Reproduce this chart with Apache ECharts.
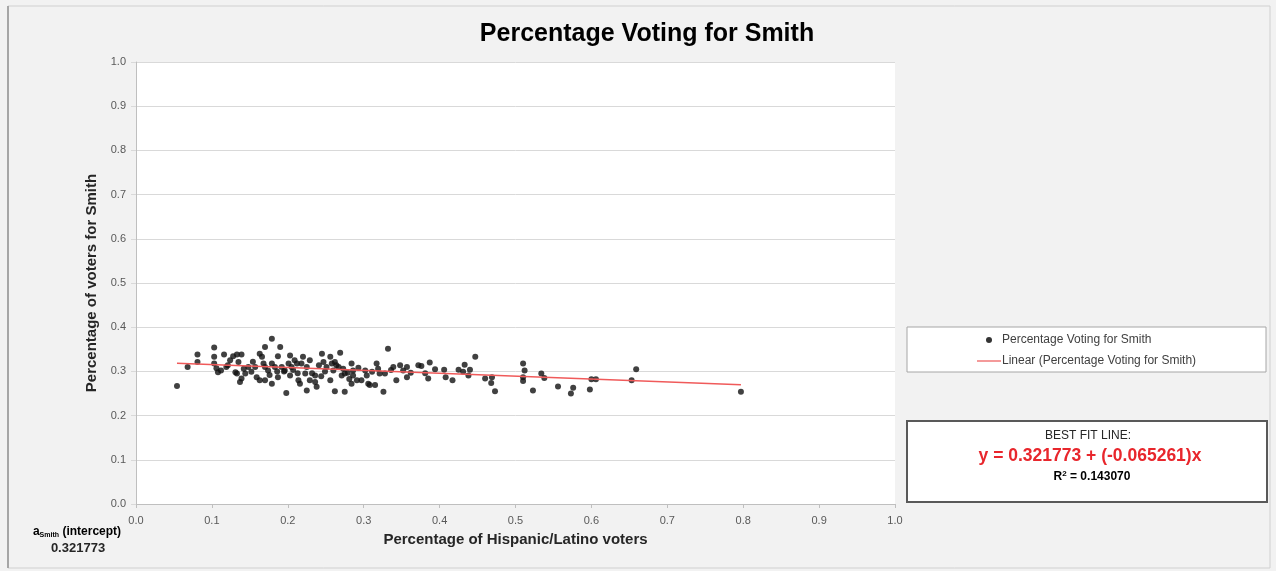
<!DOCTYPE html>
<html>
<head>
<meta charset="utf-8">
<script src="https://cdn.jsdelivr.net/npm/echarts@6/dist/echarts.min.js"></script>
<style>html,body{margin:0;padding:0;background:#f2f2f2;}#c{width:1276px;height:571px;}</style>
</head>
<body>
<div id="c"></div>
<script>
// Hispanic/Latino share (x) and Smith vote share (y)
const hispanicShare = [
0.054,0.068,0.081,0.081,0.103,0.103,0.103,0.106,0.108,0.116,0.119,0.128,0.133,0.139,0.135,0.133,0.139,0.137,0.144,0.131,
0.148,0.157,0.159,0.163,0.163,0.166,0.168,0.170,0.179,0.190,0.187,0.170,0.174,0.179,0.183,0.187,0.192,0.196,0.201,0.205,
0.170,0.179,0.198,0.203,0.209,0.212,0.207,0.203,0.220,0.218,0.225,0.229,0.223,0.214,0.216,0.225,0.229,0.236,0.238,0.236,
0.245,0.247,0.251,0.256,0.258,0.262,0.260,0.264,0.269,0.267,0.273,0.275,0.271,0.256,0.262,0.275,0.284,0.286,0.286,0.284,
0.291,0.297,0.306,0.308,0.302,0.304,0.317,0.319,0.321,0.315,0.326,0.328,0.332,0.339,0.343,0.348,0.352,0.357,0.357,0.372,
0.376,0.387,0.381,0.385,0.406,0.408,0.417,0.425,0.433,0.431,0.440,0.438,0.447,0.460,0.469,0.468,0.473,0.510,0.512,0.510,
0.510,0.523,0.534,0.538,0.556,0.576,0.573,0.598,0.600,0.606,0.653,0.659,0.797,0.112,0.124,0.142,0.152,0.176,0.195,0.232,
0.241,0.249,0.279,0.293,0.311,0.336,0.362,0.394,0.121,0.154,0.186,0.213,0.244,0.281
];
const smithShare = [
0.267,0.310,0.338,0.321,0.354,0.333,0.318,0.307,0.298,0.338,0.310,0.334,0.338,0.338,0.321,0.295,0.284,0.276,0.295,0.298,
0.310,0.310,0.287,0.280,0.340,0.333,0.318,0.355,0.374,0.355,0.334,0.310,0.302,0.318,0.310,0.287,0.310,0.302,0.318,0.310,
0.280,0.272,0.251,0.336,0.325,0.318,0.303,0.291,0.333,0.318,0.310,0.325,0.295,0.280,0.272,0.257,0.280,0.276,0.265,0.291,
0.340,0.321,0.310,0.333,0.318,0.321,0.302,0.314,0.342,0.310,0.306,0.295,0.291,0.280,0.255,0.254,0.318,0.302,0.291,0.272,
0.280,0.280,0.272,0.269,0.302,0.291,0.318,0.306,0.295,0.269,0.254,0.295,0.351,0.310,0.280,0.314,0.302,0.310,0.287,0.314,
0.312,0.320,0.296,0.284,0.304,0.287,0.280,0.304,0.315,0.299,0.304,0.291,0.333,0.284,0.287,0.274,0.255,0.318,0.302,0.287,
0.278,0.257,0.295,0.285,0.266,0.263,0.250,0.259,0.282,0.282,0.280,0.305,0.254,0.302,0.325,0.306,0.299,0.292,0.300,0.296,
0.314,0.300,0.297,0.308,0.299,0.303,0.297,0.305,0.314,0.322,0.300,0.296,0.289,0.283
];
// Trend line end points as drawn (x from first to last point)
const trendX = [0.054, 0.797];
const trendY = [0.3183, 0.2698];
const yTicks = ['0.0','0.1','0.2','0.3','0.4','0.5','0.6','0.7','0.8','0.9','1.0'];
const seriesName = 'Percentage Voting for Smith';
const trendName = 'Linear (Percentage Voting for Smith)';

const pts = hispanicShare.map((x, i) => [x, smithShare[i]]);
const trend = trendX.map((x, i) => [x, trendY[i]]);

const chart = echarts.init(document.getElementById('c'), null, {renderer: 'canvas'});
const lblColor = '#595959';
const FF = 'Liberation Sans, Arial, sans-serif';
chart.setOption({
  backgroundColor: '#f2f2f2',
  animation: false,
  title: {
    text: 'Percentage Voting for Smith',
    left: 642, top: 17, textAlign: 'center',
    textStyle: {fontFamily: FF, fontSize: 25, fontWeight: 'bold', color: '#000'}
  },
  grid: {left: 136, top: 62, width: 759, height: 442, backgroundColor: '#ffffff', show: true, borderWidth: 0},
  xAxis: {
    type: 'value', min: 0, max: 1, interval: 0.1,
    axisLine: {show: true, lineStyle: {color: '#bfbfbf'}},
    axisTick: {show: true, length: 4, lineStyle: {color: '#bfbfbf'}},
    splitLine: {show: false},
    axisLabel: {color: lblColor, fontSize: 11, fontFamily: FF, margin: 11, formatter: v => v.toFixed(1)},
    name: 'Percentage of Hispanic/Latino voters', nameLocation: 'middle', nameGap: 28,
    nameTextStyle: {color: '#262626', fontSize: 15, fontWeight: 'bold', fontFamily: FF}
  },
  yAxis: {
    type: 'value', min: 0, max: 1, interval: 0.1,
    axisLine: {show: true, lineStyle: {color: '#bfbfbf'}},
    axisTick: {show: true, length: 5, lineStyle: {color: '#d9d9d9'}},
    splitLine: {show: true, lineStyle: {color: '#d9d9d9'}},
    axisLabel: {color: lblColor, fontSize: 11, fontFamily: FF, margin: 10,
      formatter: (v) => yTicks[Math.round(v * 10)]},
    name: 'Percentage of voters for Smith', nameLocation: 'middle', nameGap: 35, nameRotate: 90,
    nameTextStyle: {color: '#262626', fontSize: 15, fontWeight: 'bold', fontFamily: FF}
  },
  legend: {
    orient: 'vertical', left: 972, top: 329, itemWidth: 24, itemHeight: 6, itemGap: 9,
    textStyle: {fontSize: 12, color: '#404040', fontFamily: FF, padding: [0,0,0,-4]},
    data: [
      {name: seriesName, icon: 'circle', itemStyle: {color: '#000'}},
      {name: trendName, icon: 'path://M0,0 L24,0 L24,1.5 L0,1.5 Z', itemStyle: {color: '#f07878'}}
    ],
    selectedMode: false
  },
  series: [
    {name: seriesName, type: 'scatter', data: pts, symbolSize: 6, itemStyle: {color: '#111'}, z: 3},
    {name: trendName, type: 'line', data: trend, showSymbol: false, symbol: 'none',
      lineStyle: {color: '#f05a5a', width: 1.5}, itemStyle: {color: '#f05a5a'}, z: 4}
  ],
  graphic: [
    {type: 'rect', shape: {x: 8, y: 6, width: 1262, height: 562}, style: {fill: 'none', stroke: '#d0d0d0', lineWidth: 1}, z: -10},
    {type: 'rect', shape: {x: 7, y: 6, width: 2, height: 562}, style: {fill: '#a6a6a6'}, z: -9},
    {type: 'rect', shape: {x: 907, y: 327, width: 359, height: 45}, style: {fill: '#ffffff', stroke: '#a6a6a6', lineWidth: 1}, z: -1},
    {type: 'rect', shape: {x: 907, y: 421, width: 360, height: 81}, style: {fill: '#ffffff', stroke: '#595959', lineWidth: 2}, z: -1},
    {type: 'text', x: 1088, y: 436, style: {text: 'BEST FIT LINE:', fill: '#262626', fontSize: 12, fontFamily: FF, align: 'center', verticalAlign: 'middle'}},
    {type: 'text', x: 1090, y: 456, style: {text: 'y = 0.321773 + (-0.065261)x', fill: '#e8262c', fontSize: 17.5, fontWeight: 'bold', fontFamily: FF, align: 'center', verticalAlign: 'middle'}},
    {type: 'text', x: 1092, y: 477, style: {text: '{b|R}{sup|2}{b| = 0.143070}', fontFamily: FF, align: 'center', verticalAlign: 'middle',
      rich: {b: {fontSize: 12, fontWeight: 'bold', color: '#262626'}, sup: {fontSize: 8, fontWeight: 'bold', color: '#262626', verticalAlign: 'top', padding: [0,0,6,0]}}}},
    {type: 'text', x: 77, y: 532, style: {text: '{s|a}{sub|Smith}{s| (intercept)}', fontFamily: FF, align: 'center', verticalAlign: 'middle',
      rich: {s: {fontSize: 12, fontWeight: 'bold', color: '#262626'}, sub: {fontSize: 7, fontWeight: 'bold', color: '#262626', padding: [6,0,0,0]}}}},
    {type: 'text', x: 78, y: 548, style: {text: '0.321773', fill: '#262626', fontSize: 13, fontWeight: 'bold', fontFamily: FF, align: 'center', verticalAlign: 'middle'}}
  ]
});
</script>
</body>
</html>
